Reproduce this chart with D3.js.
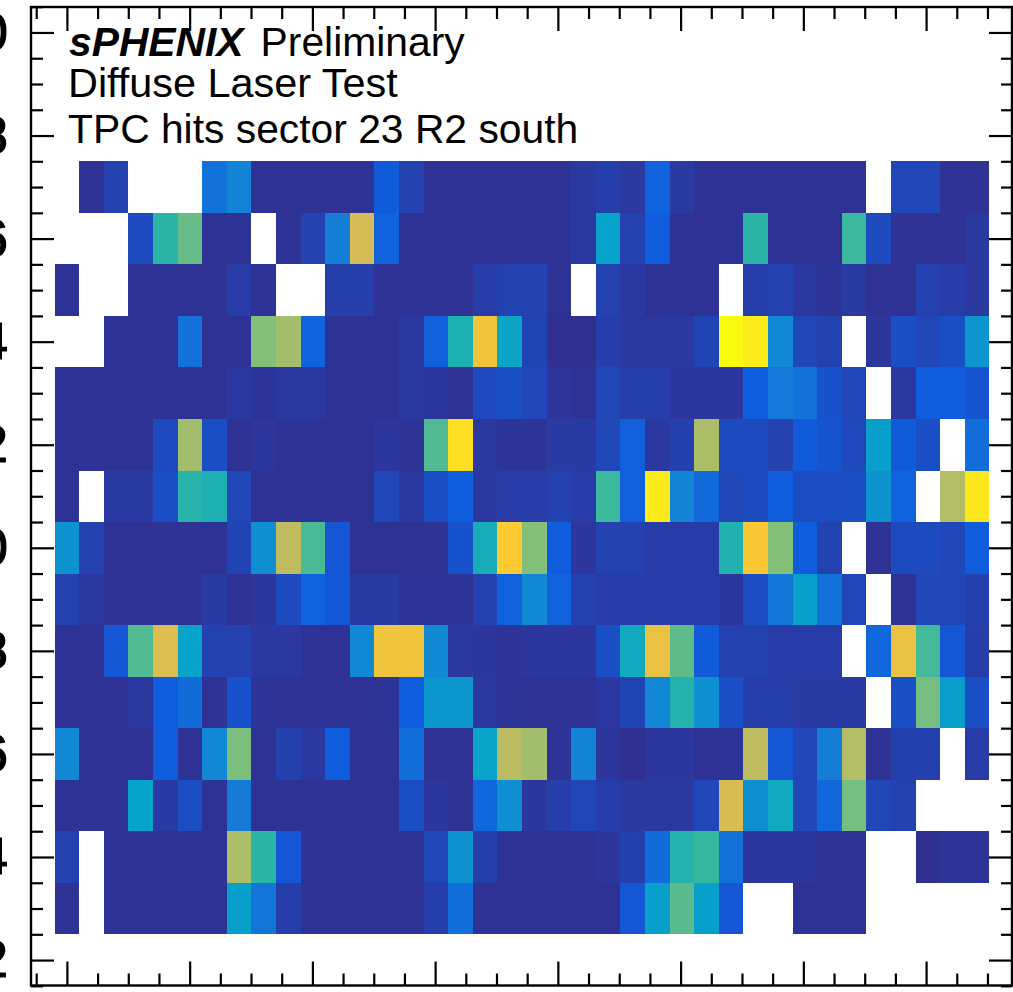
<!DOCTYPE html>
<html><head><meta charset="utf-8">
<script src="https://cdn.jsdelivr.net/npm/d3@7"></script>
<style>html,body{margin:0;padding:0;background:#fff;overflow:hidden}svg{display:block}</style>
</head><body><svg id="c" width="1013" height="992"></svg>
<script>
const _ = null;
// Palette position of each bin, 0-100 (null = empty bin); one list per TPC row bin
const row27 = [_,2,6,_,_,_,20,26,2,2,2,2,2,12,6,2,2,2,2,2,2,3.5,5,3.5,15,4,2,2,2,2,2,2,2,_,7,7,2,2];
const row26 = [_,_,_,8,49,58,2,2,_,2,6,24,76,15,2,2,2,2,2,2,2,3.5,37,6,13,2,2,2,49,2,2,2,52,8,2,2,2,3.5];
const row25 = [2,_,_,2,2,2,2,4.5,2,_,_,5,5,2,2,2,2,4.5,6,6,2,_,6,3.5,2,2,2,_,5,6,3.5,2.5,4,2,2,6,4.5,3.5];
const row24 = [_,_,2,2,2,20,2,2,62,67,15,2,2,2,3.5,14,45,84,39,6.5,1.5,1.5,5,3.5,3.5,3.5,6.5,100,96,28,7,6,_,3,9,7,9,32];
const row23 = [2,2,2,2,2,2,2,3.5,2.5,3.5,3.5,2,2,2,3.5,3,2,7.5,9,7,3,2,7,5,5,3,3,3,13,22,20,10,7,_,3.5,13,13,10.5];
const row22 = [2,2,2,2,8,67,9,2,3,2,2,2,2,3,2,55,93,3.5,2.5,2.5,4,4,7,14,3.5,5.5,69,8,8,6,12,10.5,7.5,36,12,9,_,19];
const row21 = [2,_,4,4,9,48,45,7,2,2,2,2,2,7,3.5,9,13,3.5,4.5,4.5,6,4.5,52,14,96,26,17,7,8,12.5,8.5,8.5,9,31,15,_,70,95];
const row20 = [31,6,2,2,2,2,2,6.5,30,72,54,11,2,2,2,2,10,43,88,62,12.5,3,6,6,4.5,4.5,4.5,46,87,62,13,6,_,2,8,8,7,12.5];
const row19 = [6,3.5,2,2,2,2,4,2,3,8,15,11.5,4,4,2.5,2.5,2.5,6,15,28,15,6,4.5,4.5,4.5,4.5,4.5,3,8.5,21,36,20,7,_,2,7,7,5.5];
const row18 = [2,2,11,55,78,37,6,6,3.5,3.5,2,2,27,84,84,28,3.5,3,2.5,3,3,3,9,41,82,57,12,6,6,4.5,4.5,4.5,_,16,82,53,11,5];
const row17 = [2,2,2,3.5,13,18,2,10,2.5,2,2,2,2,2.5,12.5,33,33,3.5,2.5,2,2,2,3.5,6.5,27,47,30,9,5,5,4,4,4,_,9,60,35,9];
const row16 = [27,2,2,2,13,2,27,61,2,5.5,3.5,13,2,2,19,2,2,38,71,67,2.5,26,3,1.5,3,3,2,2.5,72,11,7,24,70,2,5.5,5.5,_,4.5];
const row15 = [2,2,2,37,4,8.5,2,23,2,2,2,2,2,2,9,3,2,16,30,3,5,7,5,3.5,3.5,3.5,7,77,30,41,7,16,60,7,6,_,_,_];
const row14 = [6,_,2,2,2,2,2,69,49,11,2,2,2,2,2,7,31,5,2,2,2,2,3,5.5,18,47,51,20,3,3,3,2,2,_,_,1.5,2.5,2.5];
const row13 = [2,_,2,2,2,2,2,36,21,5,2,2,2,2,2,5,19,2,2,2,2,2,2,11,36,56,36,11,_,_,2,2,2,_,_,_,_,_];
const rowBins = [27,26,25,24,23,22,21,20,19,18,17,16,15,14,13];
const rows = [row27,row26,row25,row24,row23,row22,row21,row20,row19,row18,row17,row16,row15,row14,row13];
const yTickLabels = ["30","28","26","24","22","20","18","16","14","12"];
const birdStops = [0,12.5,25,37.5,50,62.5,75,87.5,100];
const birdColors = ["#352a87","#0f5cdd","#1481d6","#06a4ca","#2eb7a4","#87bf77","#d1bb59","#fec832","#f9fb0e"];
const titleLines = ["Diffuse Laser Test","TPC hits sector 23 R2 south"];

const W = 1013, H = 992;
const L = 31, R = 1012, T = 7, B = 985.5;
const x = d3.scaleLinear().domain([-0.5,37.5]).range([54.6,989.3]);
const y = d3.scaleLinear().domain([12.5,27.5]).range([934.3,161.3]);
const color = d3.scaleLinear().domain(birdStops).range(birdColors).interpolate(d3.interpolateRgb);
const svg = d3.select("#c");

// cells
const cells = [];
rows.forEach((r,i)=>r.forEach((v,c)=>{ if(v!==null) cells.push({c,row:rowBins[i],v}); }));
svg.append("g").attr("shape-rendering","crispEdges").selectAll("rect").data(cells).join("rect")
  .attr("x",d=>x(d.c-0.5)).attr("width",d=>x(d.c+0.5)-x(d.c-0.5))
  .attr("y",d=>y(d.row+0.5)).attr("height",d=>y(d.row-0.5)-y(d.row+0.5))
  .attr("fill",d=>color(d.v));

// axes
const yMajor = d3.range(30,11,-2);
const yMinor = d3.range(30.5,11,-0.5).filter(v=>!yMajor.includes(v));
const xStep = 4.99;
const xMajor = d3.range(0,8).map(i=>i*xStep);
const xMinor = d3.range(-1,39).map(i=>i*xStep/4).filter(v=>x(v)<1005 && !xMajor.some(m=>Math.abs(m-v)<0.01));

function styleAxis(g){ g.select(".domain").remove(); g.selectAll("line").attr("stroke","#000").attr("stroke-width",2.2); }
const fmtNone = ()=>"";
svg.append("g").attr("transform",`translate(${L},0)`).call(d3.axisLeft(y).tickValues(yMajor).tickSizeInner(-23).tickSizeOuter(0).tickPadding(23).tickFormat((d,k)=>yTickLabels[k])).call(styleAxis)
  .selectAll("text").attr("font-family","'Liberation Sans',sans-serif").attr("font-size",52).attr("fill","#000").attr("stroke","#000").attr("stroke-width",1.2);
svg.append("g").attr("transform",`translate(${L},0)`).call(d3.axisLeft(y).tickValues(yMinor).tickSizeInner(-12).tickSizeOuter(0).tickFormat(fmtNone)).call(styleAxis);
svg.append("g").attr("transform",`translate(${R},0)`).call(d3.axisRight(y).tickValues(yMajor).tickSizeInner(-23).tickSizeOuter(0).tickFormat(fmtNone)).call(styleAxis);
svg.append("g").attr("transform",`translate(${R},0)`).call(d3.axisRight(y).tickValues(yMinor).tickSizeInner(-11).tickSizeOuter(0).tickFormat(fmtNone)).call(styleAxis);
svg.append("g").attr("transform",`translate(0,${T})`).call(d3.axisTop(x).tickValues(xMajor).tickSizeInner(-24).tickSizeOuter(0).tickFormat(fmtNone)).call(styleAxis);
svg.append("g").attr("transform",`translate(0,${T})`).call(d3.axisTop(x).tickValues(xMinor).tickSizeInner(-12).tickSizeOuter(0).tickFormat(fmtNone)).call(styleAxis);
svg.append("g").attr("transform",`translate(0,${B})`).call(d3.axisBottom(x).tickValues(xMajor).tickSizeInner(-24).tickSizeOuter(0).tickFormat(fmtNone)).call(styleAxis);
svg.append("g").attr("transform",`translate(0,${B})`).call(d3.axisBottom(x).tickValues(xMinor).tickSizeInner(-12).tickSizeOuter(0).tickFormat(fmtNone)).call(styleAxis);

// frame
svg.append("rect").attr("x",L).attr("y",T).attr("width",R-L).attr("height",B-T).attr("fill","none").attr("stroke","#000").attr("stroke-width",2.4);

// text
const font = "'Liberation Sans',Arial,sans-serif", fs = 40.8;
const t1 = svg.append("text").attr("x",69).attr("y",56).attr("font-family",font).attr("font-size",fs).attr("fill","#000");
t1.append("tspan").attr("font-weight","bold").attr("font-style","italic").text("sPHENIX");
t1.append("tspan").attr("dx",17).text("Preliminary");
svg.append("text").attr("x",68).attr("y",96.5).attr("font-family",font).attr("font-size",41.4).attr("fill","#000").text(titleLines[0]);
svg.append("text").attr("x",68).attr("y",142.5).attr("font-family",font).attr("font-size",fs).attr("fill","#000").text(titleLines[1]);
</script></body></html>
